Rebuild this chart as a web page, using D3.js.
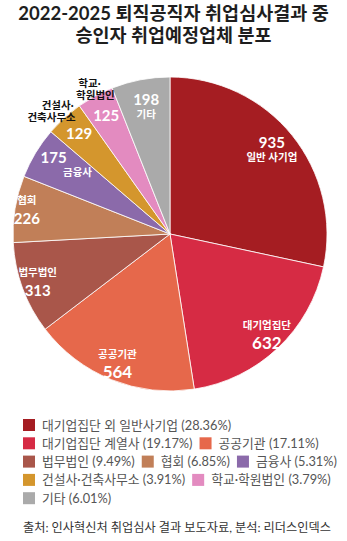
<!DOCTYPE html>
<html><head><meta charset="utf-8">
<script src="https://cdn.jsdelivr.net/npm/d3@7"></script>
<style>
body{margin:0;background:#fff;}
svg{display:block;font-family:Lato,"Noto Sans CJK KR",sans-serif;}
</style></head>
<body><svg id="c" width="347" height="541"></svg>
<script>
const titleLines = ["2022-2025 퇴직공직자 취업심사결과 중", "승인자 취업예정업체 분포"];
const categories = ["대기업집단 외 일반사기업", "대기업집단 계열사", "공공기관", "법무법인", "협회", "금융사", "건설사·건축사무소", "학교·학원법인", "기타"];
const values = [935, 632, 564, 313, 226, 175, 129, 125, 198];
const sliceNames = [["일반 사기업"], ["대기업집단"], ["공공기관"], ["법무법인"], ["협회"], ["금융사"], ["건설사·", "건축사무소"], ["학교·", "학원법인"], ["기타"]];
const colors = ["#a51d22", "#d62b44", "#e6684b", "#a9564a", "#c17f58", "#8b6aaa", "#d4962d", "#e38bc0", "#aaaaaa"];
const legendRows = [[0], [1, 2], [3, 4, 5], [6, 7], [8]];
const source = "출처: 인사혁신처 취업심사 결과 보도자료, 분석: 리더스인덱스";

const svg = d3.select("#c");
const cx = 170, cy = 234, R = 157;

// title
svg.append("g").selectAll("text").data(titleLines).join("text")
  .attr("x", 173.5).attr("y", (d, i) => 19.5 + i * 22.5)
  .attr("text-anchor", "middle").attr("font-size", 18.5).attr("font-weight", 700)
  .attr("fill", "#1e1e1e").text(d => d);

const total = d3.sum(values);
const pie = d3.pie().sort(null).value(d => d);
const arcs = pie(values);
const arc = d3.arc().innerRadius(0).outerRadius(R);
const g = svg.append("g").attr("transform", `translate(${cx},${cy})`);
g.selectAll("path").data(arcs).join("path")
  .attr("d", arc).attr("fill", (d, i) => colors[i])
  .attr("stroke", "#fff").attr("stroke-width", 0.8);

// label layout (positions only; values come from the arrays above)
const labelLayout = [
  {r: 131, nameFirst: false},
  {r: 141, nameFirst: true},
  {r: 141, nameFirst: true},
  {r: 141, nameFirst: true},
  {r: 145, nameFirst: true},
  {r: 129, nameFirst: false, nameDx: 18, numDx: -6},
  {r: 135, outside: 167, lineDx: [0, -6], lineH: 12},
  {r: 134, outside: 165, lineDx: [-2, 4], lineH: 12.5},
  {r: 127, nameFirst: false}
];
function polar(a, r) { return [Math.sin(a) * r, -Math.cos(a) * r]; }
arcs.forEach((d, i) => {
  const L = labelLayout[i];
  const mid = (d.startAngle + d.endAngle) / 2;
  const [x, y] = polar(mid, L.r);
  const num = values[i];
  const bigNum = num > 500 && i > 0;
  const numSize = bigNum ? 17 : 15;
  if (L.outside) {
    g.append("text").attr("x", x).attr("y", y + 5).attr("text-anchor", "middle")
      .attr("font-size", numSize).attr("font-weight", 700).attr("fill", "#fff").text(num);
    const [ox, oy] = polar(mid, L.outside);
    const names = sliceNames[i];
    names.forEach((n, k) => {
      g.append("text").attr("x", ox + L.lineDx[k]).attr("y", oy + (k - (names.length - 1) / 2) * L.lineH + 4)
        .attr("text-anchor", "middle").attr("font-size", 10.5).attr("font-weight", 700)
        .attr("fill", "#111").text(n);
    });
  } else {
    const name = sliceNames[i][0];
    const nameY = L.nameFirst ? y - 7 : y + 9;
    const numY = L.nameFirst ? y + 13 : y - 4;
    g.append("text").attr("x", x + (L.numDx || 0)).attr("y", numY).attr("text-anchor", "middle")
      .attr("font-size", numSize).attr("font-weight", 700).attr("fill", "#fff").text(num);
    g.append("text").attr("x", x + (L.nameDx || 0)).attr("y", nameY).attr("text-anchor", "middle")
      .attr("font-size", 10.5).attr("font-weight", 700).attr("fill", "#fff").text(name);
  }
});

// legend
const lg = svg.append("g");
legendRows.forEach((row, ri) => {
  let x = 23;
  const y = 425 + ri * 18.3;
  row.forEach(idx => {
    lg.append("rect").attr("x", x).attr("y", y - 6).attr("width", 12).attr("height", 12)
      .attr("fill", colors[idx]);
    const pct = (values[idx] / total * 100).toFixed(2);
    const t = lg.append("text").attr("x", x + 19).attr("y", y + 4.5)
      .attr("font-size", 12.8).attr("fill", "#555").text(`${categories[idx]} (${pct}%)`);
    x += 19 + t.node().getComputedTextLength() + 7;
  });
});

svg.append("text").attr("x", 23).attr("y", 532).attr("font-size", 12.2).attr("fill", "#333")
  .text(source);
</script></body></html>
